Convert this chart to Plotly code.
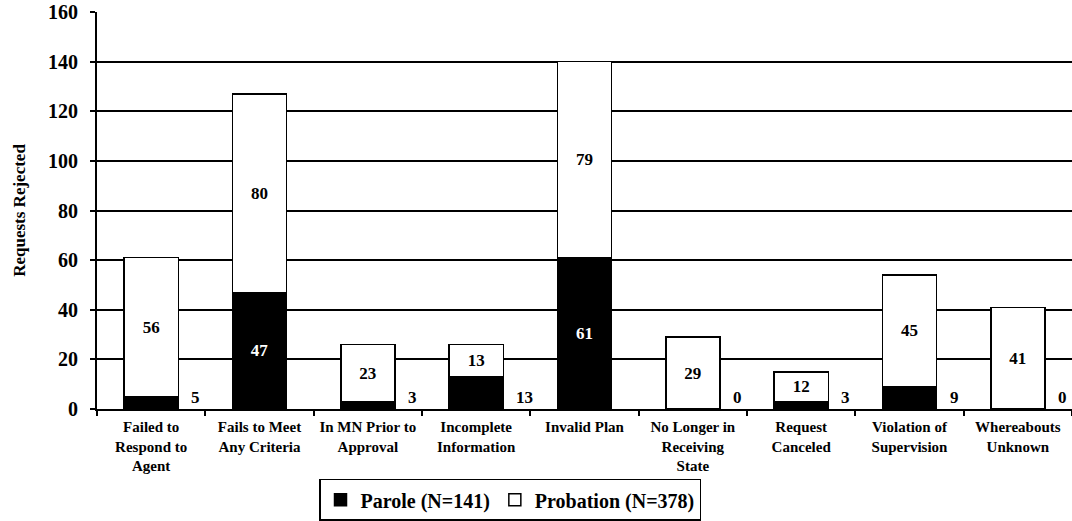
import plotly.graph_objects as go

# ---- Data ----
categories = [
    "Failed to<br>Respond to<br>Agent",
    "Fails to Meet<br>Any Criteria",
    "In MN Prior to<br>Approval",
    "Incomplete<br>Information",
    "Invalid Plan",
    "No Longer in<br>Receiving<br>State",
    "Request<br>Canceled",
    "Violation of<br>Supervision",
    "Whereabouts<br>Unknown",
]
parole = [5, 47, 3, 13, 61, 0, 3, 9, 0]
probation = [56, 80, 23, 13, 79, 29, 12, 45, 41]
y_ticks = [0, 20, 40, 60, 80, 100, 120, 140, 160]

FONT = "Liberation Serif"
INK = "#000000"

# big parole counts are labelled inside the black bar, small ones beside it
inside_parole = [str(v) if v >= 40 else "" for v in parole]

fig = go.Figure()

fig.add_trace(go.Bar(
    x=categories,
    y=parole,
    name="Parole (N=141)",
    marker=dict(color=INK, line=dict(color=INK, width=1.5)),
    width=0.5,
    text=inside_parole,
    textposition="inside",
    insidetextanchor="middle",
    textfont=dict(color="white", size=17, family=FONT, weight="bold"),
))

fig.add_trace(go.Bar(
    x=categories,
    y=probation,
    name="Probation (N=378)",
    marker=dict(color="white", line=dict(color=INK, width=1.5)),
    width=0.5,
    text=[str(v) for v in probation],
    textposition="inside",
    insidetextanchor="middle",
    textfont=dict(color=INK, size=17, family=FONT, weight="bold"),
))

# small parole counts sit to the right of the bar, on the baseline
for cat, val in zip(categories, parole):
    if val >= 40:
        continue
    fig.add_annotation(
        x=cat, y=0, xref="x", yref="y",
        text=str(val), showarrow=False,
        xanchor="left", yanchor="bottom",
        xshift=38, yshift=0,
        font=dict(color=INK, size=17, family=FONT, weight="bold"),
    )

fig.update_layout(
    barmode="stack",
    width=1072,
    height=521,
    paper_bgcolor="white",
    plot_bgcolor="white",
    font=dict(family=FONT, color=INK),
    margin=dict(l=97, r=0, t=12, b=112),
    showlegend=True,
    legend=dict(
        orientation="h",
        x=0.4236, xanchor="center",
        y=-0.176, yanchor="top",
        bordercolor=INK, borderwidth=1.5,
        font=dict(size=20, family=FONT, weight="bold", color=INK),
        itemwidth=30,
        traceorder="normal",
    ),
    xaxis=dict(
        type="category",
        automargin=False,
        showline=True, linecolor=INK, linewidth=2,
        ticks="outside", tickson="boundaries", ticklen=5,
        tickcolor=INK, tickwidth=1.5,
        ticklabelstandoff=3,
        tickfont=dict(size=15, family=FONT, weight="bold", color=INK),
        showgrid=False,
        fixedrange=True,
    ),
    yaxis=dict(
        range=[0, 160],
        tickvals=y_ticks,
        automargin=False,
        showline=True, linecolor=INK, linewidth=2,
        ticks="outside", ticklen=5, tickcolor=INK, tickwidth=1.5,
        ticklabelstandoff=8,
        showgrid=True, gridcolor=INK, gridwidth=2,
        zeroline=False,
        tickfont=dict(size=20, family=FONT, weight="bold", color=INK),
        title=dict(
            text="Requests Rejected",
            font=dict(size=17, family=FONT, weight="bold", color=INK),
            standoff=18,
        ),
        fixedrange=True,
    ),
)

# the page body has a default 8px margin; drop it so the figure sits at 0,0
fig.write_html(
    "out.html",
    config=dict(displayModeBar=False),
    post_script="document.body.style.margin = '0';",
)
